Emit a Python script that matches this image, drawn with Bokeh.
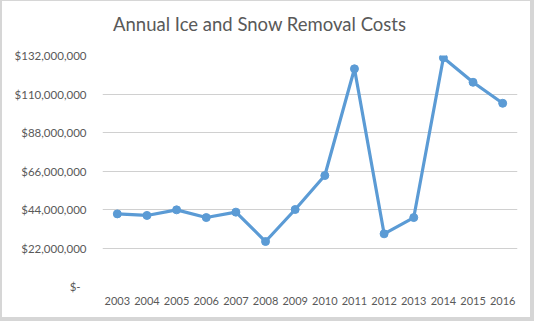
from bokeh.plotting import figure
from bokeh.layouts import column
from bokeh.models import (FactorRange, Range1d, FixedTicker, CustomJSTickFormatter,
                          ColumnDataSource, Div)
from bokeh.embed import file_html
from bokeh.resources import INLINE

title_text = "Annual Ice and Snow Removal Costs"
years = ["2003", "2004", "2005", "2006", "2007", "2008", "2009", "2010",
         "2011", "2012", "2013", "2014", "2015", "2016"]
costs = [41.5e6, 40.6e6, 43.8e6, 39.4e6, 42.5e6, 25.7e6, 44.0e6, 63.4e6,
         124.4e6, 30.1e6, 39.4e6, 130.7e6, 116.7e6, 104.7e6]
y_ticks = [0, 22e6, 44e6, 66e6, 88e6, 110e6, 132e6]

FONT = "Lato"
TEXT = "#595959"
BLUE = "#5b9bd5"

src = ColumnDataSource(dict(year=years, cost=costs))

title = Div(text=title_text, width=534, height=44, margin=0,
            styles={"font-family": FONT, "font-size": "18.5px", "color": TEXT,
                    "padding-left": "113px", "padding-top": "13px",
                    "line-height": "normal", "white-space": "nowrap"})

p = figure(width=534, height=277, x_range=FactorRange(*years, range_padding=0),
           y_range=Range1d(0, 132e6), output_backend="svg", toolbar_location=None,
           min_border_left=102, min_border_right=17, min_border_top=11, min_border_bottom=35,
           margin=0)
p.border_fill_color = None
p.background_fill_color = "white"

p.outline_line_color = None
p.xgrid.grid_line_color = None
p.ygrid.grid_line_color = "#d0d0d0"
p.ygrid.grid_line_width = 1

p.yaxis.ticker = FixedTicker(ticks=y_ticks)
p.yaxis.formatter = CustomJSTickFormatter(code="""
if (tick == 0) { return "$-\u00a0\u00a0"; }
return "$" + Math.round(tick).toLocaleString("en-US");
""")
for ax in (p.xaxis[0], p.yaxis[0]):
    ax.axis_line_color = None
    ax.major_tick_line_color = None
    ax.minor_tick_line_color = None
    ax.major_tick_out = 0
    ax.major_tick_in = 0
    ax.minor_tick_out = 0
    ax.major_label_text_font = FONT
    ax.major_label_text_color = TEXT
p.yaxis.major_label_text_font_size = "11.5px"
p.xaxis.major_label_text_font_size = "11px"
p.yaxis.major_label_standoff = 16
p.xaxis.major_label_standoff = 10

p.line("year", "cost", source=src, line_color=BLUE, line_width=3.2)
p.scatter("year", "cost", source=src, size=8, fill_color=BLUE, line_color=BLUE)

layout = column(title, p, spacing=0, margin=0)
layout.styles = {"box-shadow": "inset 2px 1px 0 #d6d6d6, inset -4px -4px 0 #d6d6d6"}

open("out.html", "w").write(file_html(layout, INLINE))
